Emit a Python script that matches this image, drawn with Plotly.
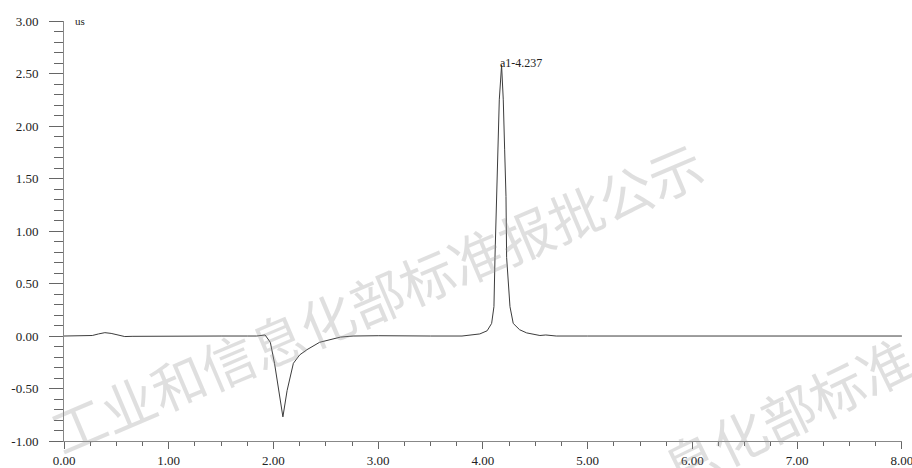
import plotly.graph_objects as go

# retention time (min) and conductivity signal (uS)
time_min = [0.0, 0.2, 0.27, 0.33, 0.39, 0.45, 0.52, 0.58, 0.65, 0.9, 1.2, 1.5, 1.75, 1.84,
            1.92, 1.97, 2.01, 2.06, 2.09, 2.13, 2.19, 2.25, 2.32, 2.44, 2.55, 2.64, 2.76,
            3.0, 3.5, 3.8, 3.97, 4.04, 4.083, 4.105, 4.115, 4.131, 4.146, 4.156, 4.178,
            4.194, 4.207, 4.22, 4.226, 4.258, 4.289, 4.35, 4.417, 4.544, 4.6, 4.7, 5.0,
            5.5, 6.0, 6.5, 7.0, 7.5, 8.0]
signal_us = [0.0, 0.0, 0.005, 0.02, 0.032, 0.025, 0.005, -0.005, -0.003, 0.0, -0.003, 0.0,
             0.0, 0.0, 0.01, -0.06, -0.26, -0.58, -0.77, -0.52, -0.26, -0.18, -0.13, -0.06,
             -0.03, -0.01, 0.0, 0.003, 0.0, 0.0, 0.02, 0.05, 0.12, 0.28, 0.75, 1.33, 1.78,
             2.25, 2.58, 2.25, 1.78, 1.33, 0.75, 0.28, 0.12, 0.06, 0.03, 0.005, 0.01, 0.0,
             0.0, 0.0, 0.0, 0.0, 0.0, 0.0, 0.0]

x_ticks = [0, 1, 2, 3, 4, 5, 6, 7, 8]
x_tick_labels = ["0.00", "1.00", "2.00", "3.00", "4.00", "5.00", "6.00", "7.00", "8.00"]
y_ticks = [-1, -0.5, 0, 0.5, 1, 1.5, 2, 2.5, 3]
y_tick_labels = ["-1.00", "-0.50", "0.00", "0.50", "1.00", "1.50", "2.00", "2.50", "3.00"]

peak_label = "a1-4.237"
peak_time = 4.145
peak_height = 2.6
unit_label = "us"
watermark_1 = "工业和信息化部标准报批公示"
watermark_2 = "息化部标准"

L, R, T, B = 64, 10, 21, 27
W, H = 912, 468


def px_to_paper(px, py):
    return (px - L) / (W - L - R), (H - B - py) / (H - T - B)


fig = go.Figure()
fig.add_trace(go.Scatter(x=time_min, y=signal_us, mode="lines",
                         line=dict(color="#3c3c3c", width=1), hoverinfo="skip",
                         showlegend=False))

serif = "Liberation Serif"
wm_font = dict(family="Noto Sans CJK SC", size=54, color="#999")
wx1, wy1 = px_to_paper(376, 296)
wx2, wy2 = px_to_paper(787, 411)

fig.update_layout(
    width=W, height=H,
    margin=dict(l=L, r=R, t=T, b=B),
    paper_bgcolor="white", plot_bgcolor="white",
    font=dict(family=serif, size=13, color="#222"),
    xaxis=dict(range=[0, 8.001], tickvals=x_ticks, ticktext=x_tick_labels,
               showgrid=False, zeroline=False, showline=True, linecolor="#888",
               linewidth=1, ticks="outside", ticklen=7, tickcolor="#666",
               automargin=False, ticklabeloverflow="allow",
               minor=dict(dtick=0.25, ticks="outside", ticklen=4, tickcolor="#666")),
    yaxis=dict(range=[-1, 3.001], tickvals=y_ticks, ticktext=y_tick_labels,
               showgrid=False, zeroline=False, showline=True, linecolor="#888",
               linewidth=1, ticks="outside", ticklen=14, tickcolor="#666",
               ticklabelstandoff=8, automargin=False, ticklabeloverflow="allow",
               minor=dict(dtick=0.1, ticks="outside", ticklen=9, tickcolor="#666")),
    annotations=[
        dict(x=wx1, y=wy1, xref="paper", yref="paper", text=watermark_1,
             xanchor="center", yanchor="middle",
             showarrow=False, textangle=-23, opacity=0.3, font=wm_font),
        dict(x=wx2, y=wy2, xref="paper", yref="paper", text=watermark_2,
             xanchor="center", yanchor="middle",
             showarrow=False, textangle=-26, opacity=0.3, font=wm_font),
        dict(x=peak_time, y=peak_height, xref="x", yref="y", text=peak_label,
             showarrow=False, xanchor="left", yanchor="middle",
             font=dict(family=serif, size=12, color="#222")),
        dict(x=0.011, y=1.0, xref="paper", yref="paper", text=unit_label,
             showarrow=False, xanchor="left", yanchor="middle",
             font=dict(family=serif, size=11, color="#222")),
    ],
)

fig.write_html("out.html", config={"displayModeBar": False},
               post_script="document.body.style.margin='0';document.body.style.overflow='hidden';")
